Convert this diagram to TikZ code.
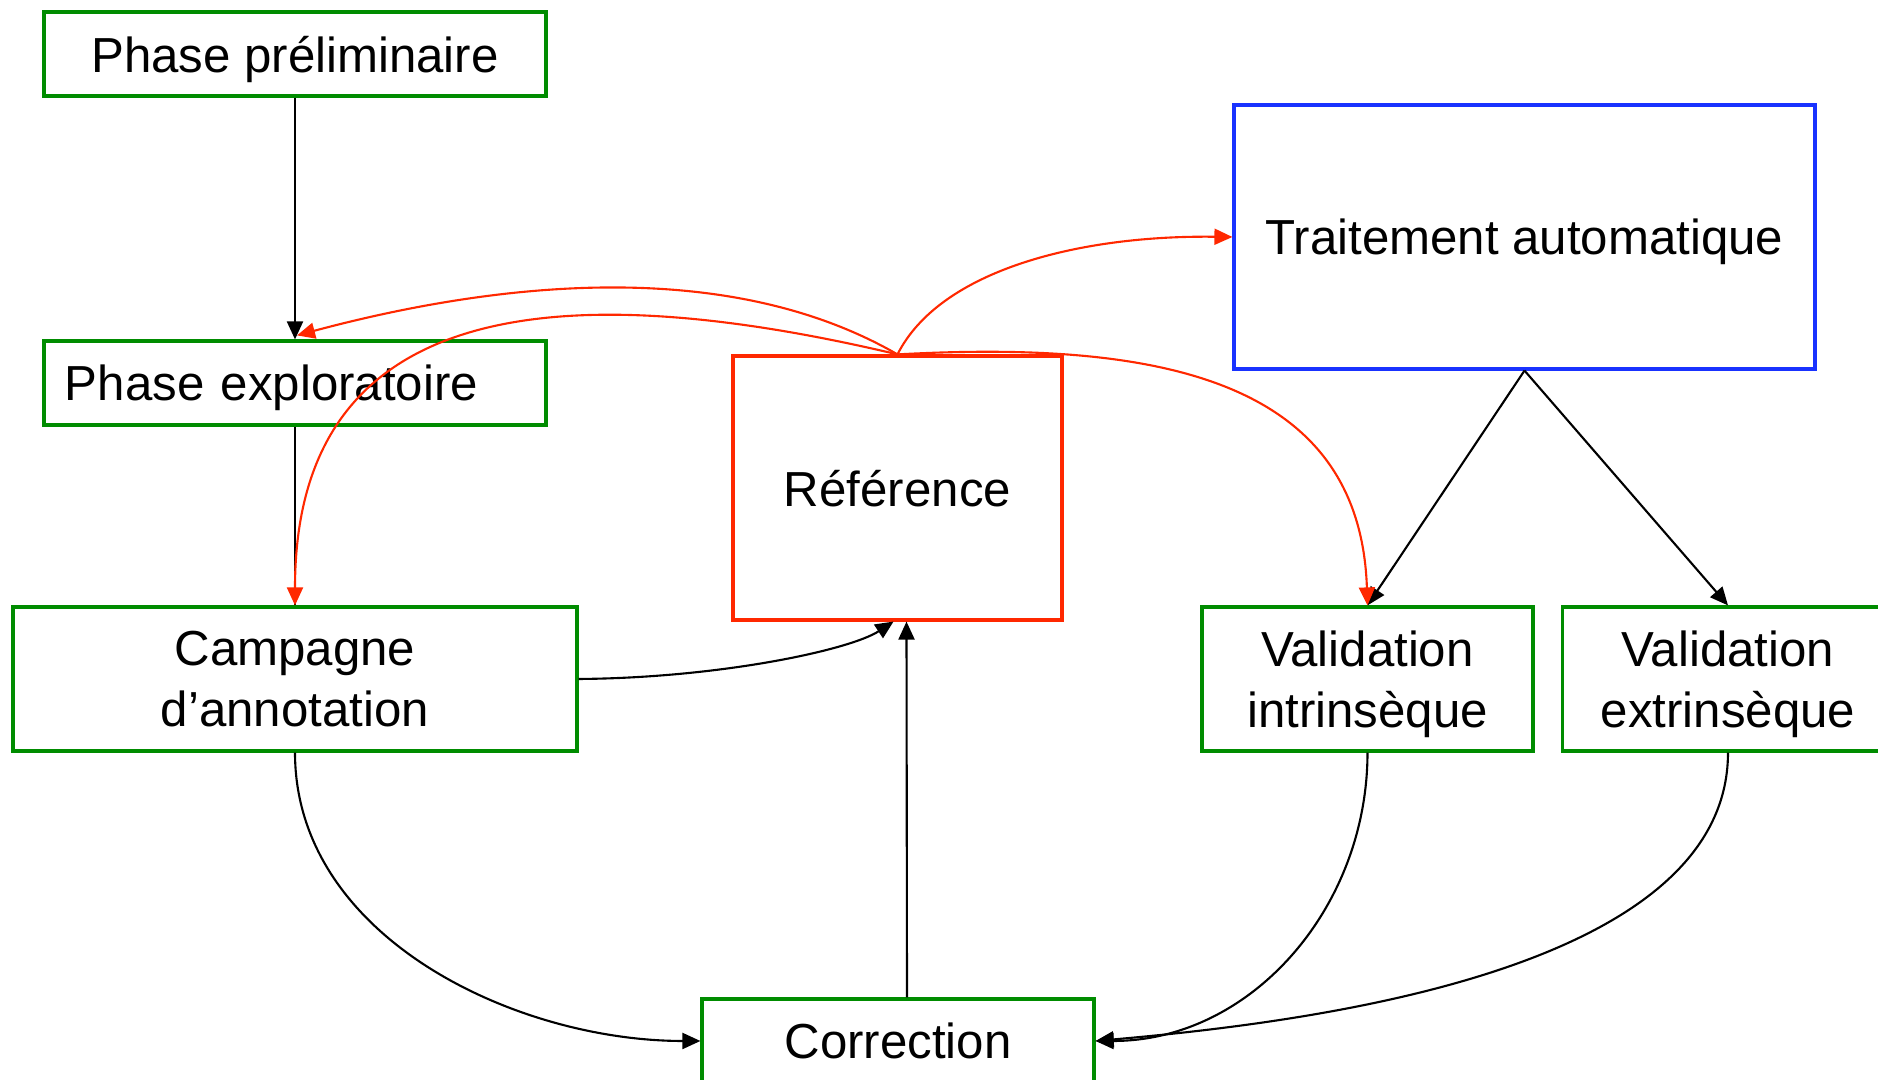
\documentclass[tikz,border=0pt]{standalone}
\usepackage{fontspec}
\setmainfont{Liberation Sans}
\usetikzlibrary{arrows.meta}
\definecolor{boxgreen}{RGB}{0,140,0}
\definecolor{refred}{RGB}{255,40,0}
\definecolor{autoblue}{RGB}{25,50,255}
\begin{document}
\begin{tikzpicture}[
  every node/.style = {font = \fontsize{14}{17.4}\selectfont, inner sep = 0pt, text depth = 0pt},
  greenbox/.style = {draw = boxgreen, line width = .9pt, align = center},
  arr/.style = {line width = .6pt, -{Triangle[length = 1.8mm, width = 1.6mm]}},
  redarr/.style = {arr, draw = refred}]
\useasboundingbox (0, 0) rectangle (18.78, 10.80);
\node[greenbox, minimum width = 5.02cm, minimum height = .84cm] (prelim) at (2.95, 10.26) {Phase préliminaire};
\node[greenbox, minimum height = .84cm, text width = 4.6cm, inner xsep = .21cm, align = left] (explor) at (2.95, 6.97) {Phase exploratoire};
\node[greenbox, minimum width = 5.64cm, minimum height = 1.44cm] (campagne) at (2.95, 4.01) {Campagne\\d’annotation};
\node[draw = refred, line width = .9pt, minimum width = 3.29cm, minimum height = 2.64cm] (reference) at (8.975, 5.92) {Référence};
\node[draw = autoblue, line width = .9pt, minimum width = 5.81cm, minimum height = 2.64cm] (auto) at (15.245, 8.43) {Traitement automatique};
\node[greenbox, minimum width = 3.31cm, minimum height = 1.44cm] (vint) at (13.675, 4.01) {Validation\\intrinsèque};
\node[greenbox, minimum width = 3.31cm, minimum height = 1.44cm] (vext) at (17.28, 4.01) {Validation\\extrinsèque};
\node[greenbox, minimum width = 3.92cm, minimum height = .84cm] (correction) at (8.98, .39) {Correction};
% black links
\draw[arr] (prelim) -- (explor);
\draw[line width = .6pt] (explor) -- (campagne);
\draw[arr] (campagne.east) .. controls (7.2, 4.02) and (8.5, 4.3) .. ([xshift = -.4mm]reference.south);
\draw[arr] ([xshift = .9mm]correction.north) -- ([xshift = .9mm]reference.south);
\draw[arr] (auto.south) -- (vint.north);
\draw[arr] (auto.south) -- (vext.north);
\draw[arr, out = -90, in = 180, looseness = .95] (campagne.south) to (correction.west);
\draw[arr, out = -90, in = 0] (vint.south) to (correction.east);
\draw[arr, out = -90, in = 5, looseness = .8] (vext.south) to (correction.east);
% red links
\draw[redarr, out = 150, in = 15, looseness = .85] (reference.north) to ([shift = {(.02, .04)}]explor.north);
\draw[redarr] (reference.north) .. controls (5.2, 8.15) and (2.95, 7.6) .. (campagne.north);
\draw[redarr] (reference.north) .. controls (9.4, 8.1) and (10.8, 8.45) .. (auto.west);
\draw[redarr] (reference.north) .. controls (11.6, 7.4) and (13.6, 7.0) .. (vint.north);
\end{tikzpicture}
\end{document}
